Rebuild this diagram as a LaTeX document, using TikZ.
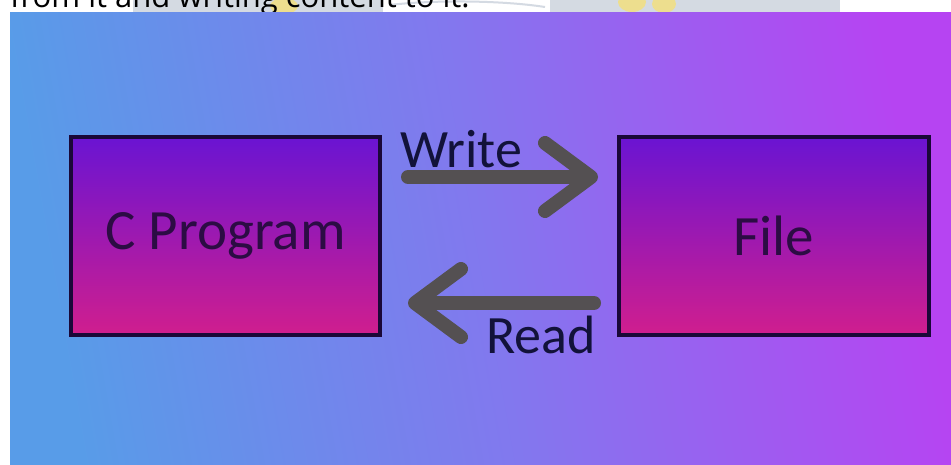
\documentclass[tikz,border=0pt]{standalone}
\usepackage{fontspec}
\setmainfont{Carlito}
\newfontfamily\topfont{Open Sans}
\usetikzlibrary{arrows.meta}
\definecolor{boxtop}{HTML}{6A14D2}
\definecolor{boxbot}{HTML}{D01E8E}
\definecolor{boxline}{HTML}{1A0838}
\definecolor{boxtext}{HTML}{2C0C44}
\definecolor{lbltext}{HTML}{12123A}
\definecolor{arrgray}{HTML}{545052}
\definecolor{bgleft}{HTML}{589CE8}
\definecolor{bgmid}{HTML}{8278EE}
\definecolor{bgright}{HTML}{B644F2}
\definecolor{wmgray}{HTML}{D4DAE2}
\definecolor{wmyellow}{HTML}{F4E07A}

\begin{document}
\begin{tikzpicture}[
x = 1pt, y = -1pt,
boxrect/.style={rectangle, align = center, 
draw = boxline, line width = 4pt, 
top color = boxtop, bottom color = boxbot, minimum width = 309pt, minimum height = 198pt, inner sep = 0pt, 
text = boxtext, font = \fontsize{57}{60}\selectfont}, 
rwarr/.style={-{Straight Barb[length=46pt, width=68pt, round]}, line width = 14pt, line cap = round, draw = arrgray}, 
lbl/.style={text = lbltext, inner sep = 0pt, font = \fontsize{54}{58}\selectfont}]

\useasboundingbox (0,0) rectangle (951,464);

% cut-off strip above the picture
\fill[white] (0,0) rectangle (951,12);
\begin{scope}
\clip (0,0) rectangle (951,12);
\fill[wmgray] (133,0) rectangle (840,12);
\fill[white] (383,0) rectangle (550,12);
\draw[wmgray, line width = 2pt] (390,5) .. controls (430,0) and (500,0) .. (545,7);
\fill[wmyellow, opacity = 0.8] (284,6) ellipse (14pt and 8pt);
\fill[wmyellow, opacity = 0.8] (632,2) ellipse (14pt and 10pt);
\fill[wmyellow, opacity = 0.8] (664,4) ellipse (12pt and 9pt);
\node[anchor = base west, inner sep = 0pt, font = \topfont\fontsize{31}{34}\selectfont] (txt) at (10,7.5) {from it and writing content to it.};
\end{scope}

% background
\shade[left color = bgleft, right color = bgright, middle color = bgmid, shading angle = 100] (10,12) rectangle (951,464);

\node[boxrect] (prog) at (225.5,236) {C Program};
\node[boxrect, minimum width = 310pt] (file) at (774,236) {File};

\draw[rwarr, shorten <= 26pt, shorten >= 19pt] ([yshift=-42pt]prog.north east) -- ([yshift=-42pt]file.north west);
\draw[rwarr, shorten <= 23pt, shorten >= 26pt] ([yshift=34pt]file.south west) -- ([yshift=34pt]prog.south east);

\node[lbl, anchor = base west] (wr) at ([xshift=18pt, yshift=-32pt]prog.north east) {Write};
\node[lbl, anchor = base east] (rd) at ([xshift=-21pt, yshift=-16pt]file.south west) {Read};
\end{tikzpicture}
\end{document}
